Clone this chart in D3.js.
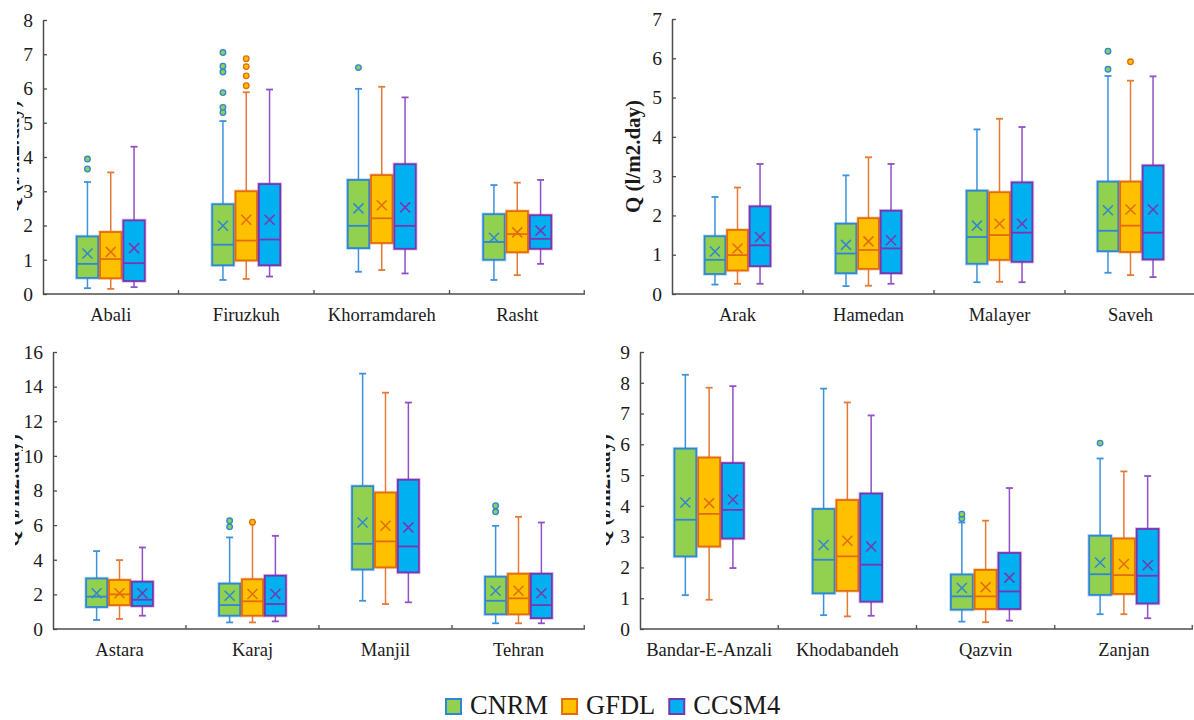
<!DOCTYPE html>
<html>
<head>
<meta charset="utf-8">
<script src="https://cdn.jsdelivr.net/npm/d3@7"></script>
<style>
  html, body { margin: 0; padding: 0; background: #fff; }
  svg { display: block; }
  svg text { font-family: "Liberation Serif", "Times New Roman", serif; fill: #1a1a1a; }
</style>
</head>
<body>
<svg id="chart" width="1194" height="720"></svg>
<script>
// ---------------- DATA ----------------
const models = ["CNRM", "GFDL", "CCSM4"];

// stats per station: [lowWhisker, Q1, median, Q3, highWhisker, mean]
const catsTL = ["Abali", "Firuzkuh", "Khorramdareh", "Rasht"];
const tlCNRM  = [[0.17,0.47,0.88,1.68,3.27,1.18],[0.41,0.84,1.44,2.62,5.05,1.99],[0.65,1.34,1.99,3.33,5.99,2.50],[0.41,1.00,1.52,2.33,3.18,1.64]];
const tlGFDL  = [[0.15,0.46,1.02,1.81,3.55,1.23],[0.44,0.98,1.56,3.00,5.89,2.17],[0.70,1.49,2.21,3.47,6.05,2.59],[0.55,1.22,1.75,2.42,3.25,1.80]];
const tlCCSM4 = [[0.20,0.38,0.90,2.15,4.30,1.34],[0.51,0.84,1.59,3.21,5.97,2.17],[0.60,1.32,1.99,3.79,5.74,2.53],[0.88,1.32,1.61,2.30,3.33,1.85]];
const tlOutCNRM  = [[3.65,3.94],[5.30,5.45,5.88,6.48,6.65,7.05],[6.61],[]];
const tlOutGFDL  = [[],[6.08,6.37,6.64,6.87],[],[]];
const tlOutCCSM4 = [[],[],[],[]];

const catsTR = ["Arak", "Hamedan", "Malayer", "Saveh"];
const trCNRM  = [[0.24,0.51,0.87,1.47,2.47,1.08],[0.20,0.53,1.03,1.79,3.02,1.25],[0.30,0.77,1.45,2.63,4.19,1.74],[0.54,1.09,1.61,2.86,5.55,2.13]];
const trGFDL  = [[0.26,0.60,0.99,1.63,2.71,1.16],[0.21,0.64,1.12,1.93,3.48,1.34],[0.31,0.87,1.50,2.59,4.46,1.79],[0.48,1.07,1.74,2.86,5.43,2.15]];
const trCCSM4 = [[0.26,0.71,1.24,2.23,3.31,1.45],[0.26,0.53,1.16,2.12,3.31,1.37],[0.30,0.82,1.56,2.84,4.25,1.79],[0.43,0.88,1.56,3.27,5.54,2.15]];
const trOutCNRM  = [[],[],[],[5.72,6.18]];
const trOutGFDL  = [[],[],[],[5.91]];
const trOutCCSM4 = [[],[],[],[]];

const catsBL = ["Astara", "Karaj", "Manjil", "Tehran"];
const blCNRM  = [[0.52,1.27,1.87,2.92,4.50,2.06],[0.38,0.77,1.38,2.62,5.29,1.92],[1.63,3.44,4.92,8.25,14.75,6.15],[0.33,0.85,1.63,3.02,5.96,2.21]];
const blGFDL  = [[0.58,1.38,2.00,2.83,3.98,2.06],[0.38,0.77,1.60,2.87,6.17,2.02],[1.44,3.56,5.06,7.88,13.65,5.96],[0.33,0.85,1.77,3.19,6.48,2.21]];
const blCCSM4 = [[0.77,1.33,1.69,2.73,4.71,2.06],[0.44,0.77,1.44,3.08,5.38,2.02],[1.54,3.27,4.77,8.62,13.08,5.87],[0.33,0.63,1.38,3.19,6.15,2.06]];
const blOutCNRM  = [[],[5.90,6.25],[],[6.77,7.12]];
const blOutGFDL  = [[],[6.17],[],[]];
const blOutCCSM4 = [[],[],[],[]];

const catsBR = ["Bandar-E-Anzali", "Khodabandeh", "Qazvin", "Zanjan"];
const brCNRM  = [[1.10,2.36,3.55,5.86,8.26,4.11],[0.45,1.16,2.25,3.90,7.81,2.73],[0.24,0.63,1.06,1.77,3.46,1.33],[0.48,1.11,1.78,3.03,5.54,2.16]];
const brGFDL  = [[0.95,2.68,3.74,5.57,7.84,4.09],[0.41,1.24,2.36,4.19,7.36,2.87],[0.22,0.65,1.06,1.92,3.52,1.36],[0.48,1.14,1.75,2.94,5.12,2.11]];
const brCCSM4 = [[1.98,2.94,3.87,5.39,7.89,4.21],[0.43,0.89,2.09,4.40,6.94,2.68],[0.27,0.65,1.22,2.47,4.58,1.67],[0.35,0.83,1.73,3.25,4.97,2.07]];
const brOutCNRM  = [[],[],[3.59,3.73],[6.04]];
const brOutGFDL  = [[],[],[],[]];
const brOutCCSM4 = [[],[],[],[]];

const ticksTL = [0,1,2,3,4,5,6,7,8];
const ticksTR = [0,1,2,3,4,5,6,7];
const ticksBL = [0,2,4,6,8,10,12,14,16];
const ticksBR = [0,1,2,3,4,5,6,7,8,9];

const yTitle = "Q (l/m2.day)";

// ---------------- STYLE ----------------
const SERIF = "'Liberation Serif', 'Times New Roman', serif";
const fillCol   = {CNRM: "#92D050", GFDL: "#FFC000", CCSM4: "#00B0F0"};
const strokeCol = {CNRM: "#2E86D6", GFDL: "#E36C0A", CCSM4: "#7A35B0"};
const whiskCol  = {CNRM: "#3D92DE", GFDL: "#E57A35", CCSM4: "#9150C8"};
const axisCol = "#4d4d4d";

const svg = d3.select("#chart");
const defs = svg.append("defs");

const panels = [
  {cats: catsTL, ticks: ticksTL, series: [tlCNRM, tlGFDL, tlCCSM4], outs: [tlOutCNRM, tlOutGFDL, tlOutCCSM4],
   x0: 43, x1: 585, yB: 294, yT: 20, titleX: 19, clipX: 17, clipW: 7},
  {cats: catsTR, ticks: ticksTR, series: [trCNRM, trGFDL, trCCSM4], outs: [trOutCNRM, trOutGFDL, trOutCCSM4],
   x0: 672, x1: 1196, yB: 294, yT: 19, titleX: 640, clipX: null, clipW: 0},
  {cats: catsBL, ticks: ticksBL, series: [blCNRM, blGFDL, blCCSM4], outs: [blOutCNRM, blOutGFDL, blOutCCSM4],
   x0: 53, x1: 585, yB: 629, yT: 352, titleX: 19, clipX: 15, clipW: 8},
  {cats: catsBR, ticks: ticksBR, series: [brCNRM, brGFDL, brCCSM4], outs: [brOutCNRM, brOutGFDL, brOutCCSM4],
   x0: 640, x1: 1193, yB: 629, yT: 352, titleX: 610, clipX: 606, clipW: 12}
];

panels.forEach((p, pi) => {
  const g = svg.append("g");
  const x = d3.scaleBand().domain(p.cats).range([p.x0, p.x1]).padding(0);
  const y = d3.scaleLinear().domain([0, d3.max(p.ticks)]).range([p.yB, p.yT]);
  const bw = x.bandwidth();
  const inner = d3.scalePoint().domain(models).range([-0.172 * bw, 0.172 * bw]);
  const boxW = 0.158 * bw;

  // Y title (some panels clipped as in the original)
  const tcy = (p.yB + p.yT) / 2;
  const tg = g.append("g");
  if (p.clipX !== null) {
    const id = "clip" + pi;
    defs.append("clipPath").attr("id", id).append("rect")
      .attr("x", p.clipX).attr("y", p.yT).attr("width", p.clipW).attr("height", p.yB - p.yT);
    tg.attr("clip-path", `url(#${id})`);
  }
  tg.append("text")
    .attr("transform", `translate(${p.titleX},${tcy}) rotate(-90)`)
    .attr("text-anchor", "middle")
    .attr("font-family", SERIF)
    .style("font-size", "21px").style("font-weight", "bold")
    .text(yTitle);

  // Y axis
  const yAxis = d3.axisLeft(y).tickValues(p.ticks).tickFormat(d3.format("d"))
    .tickSize(-4).tickPadding(10).tickSizeOuter(0);
  const ya = g.append("g").attr("transform", `translate(${p.x0},0)`).call(yAxis)
    .attr("font-family", SERIF).attr("font-size", 19);
  ya.select(".domain").attr("stroke", axisCol).attr("stroke-width", 1.5);
  ya.selectAll(".tick line").attr("stroke", axisCol).attr("stroke-width", 1.3);
  ya.selectAll(".tick text").attr("font-family", SERIF).style("font-size", "19.5px").attr("fill", "#1a1a1a");

  // X axis with separators at band edges
  g.append("line").attr("x1", p.x0).attr("x2", p.x1).attr("y1", p.yB).attr("y2", p.yB)
    .attr("stroke", axisCol).attr("stroke-width", 1.5);
  g.selectAll(".sep").data(p.cats.slice(1).concat(["__end"])).enter().append("line")
    .attr("x1", d => d === "__end" ? p.x1 - 0.75 : x(d))
    .attr("x2", d => d === "__end" ? p.x1 - 0.75 : x(d))
    .attr("y1", p.yB).attr("y2", p.yB - 4)
    .attr("stroke", axisCol).attr("stroke-width", 1.3);
  g.selectAll(".cat").data(p.cats).enter().append("text")
    .attr("x", d => x(d) + bw / 2).attr("y", p.yB + 27)
    .attr("text-anchor", "middle").attr("font-family", SERIF).style("font-size", "18.5px")
    .text(d => d);

  // Boxes
  models.forEach((m, mi) => {
    const data = p.series[mi];
    const outs = p.outs[mi];
    p.cats.forEach((c, ci) => {
      const [lo, q1, med, q3, hi, mean] = data[ci];
      const cx = x(c) + bw / 2 + inner(m);
      const bg = g.append("g");
      bg.append("line").attr("x1", cx).attr("x2", cx).attr("y1", y(q3)).attr("y2", y(hi))
        .attr("stroke", whiskCol[m]).attr("stroke-width", 1.5);
      bg.append("line").attr("x1", cx).attr("x2", cx).attr("y1", y(q1)).attr("y2", y(lo))
        .attr("stroke", whiskCol[m]).attr("stroke-width", 1.5);
      [hi, lo].forEach(v => {
        bg.append("line").attr("x1", cx - 3.5).attr("x2", cx + 3.5).attr("y1", y(v)).attr("y2", y(v))
          .attr("stroke", whiskCol[m]).attr("stroke-width", 1.8);
      });
      bg.append("rect").attr("x", cx - boxW / 2).attr("y", y(q3)).attr("width", boxW).attr("height", y(q1) - y(q3))
        .attr("fill", fillCol[m]).attr("stroke", strokeCol[m]).attr("stroke-opacity", 0.3).attr("stroke-width", 3.5);
      bg.append("rect").attr("x", cx - boxW / 2).attr("y", y(q3)).attr("width", boxW).attr("height", y(q1) - y(q3))
        .attr("fill", fillCol[m]).attr("stroke", strokeCol[m]).attr("stroke-width", 1.8);
      bg.append("line").attr("x1", cx - boxW / 2).attr("x2", cx + boxW / 2).attr("y1", y(med)).attr("y2", y(med))
        .attr("stroke", strokeCol[m]).attr("stroke-width", 1.8);
      const s = 5;
      const my = y(mean);
      bg.append("path").attr("d", `M${cx - s},${my - s}L${cx + s},${my + s}M${cx - s},${my + s}L${cx + s},${my - s}`)
        .attr("stroke", strokeCol[m]).attr("stroke-width", 1.5).attr("fill", "none");
      bg.selectAll(".o").data(outs[ci]).enter().append("circle")
        .attr("cx", cx).attr("cy", d => y(d)).attr("r", 2.8)
        .attr("fill", fillCol[m]).attr("stroke", strokeCol[m]).attr("stroke-width", 1.3);
    });
  });
});

// Legend
const leg = svg.append("g");
let lx = 446;
models.forEach(m => {
  leg.append("rect").attr("x", lx).attr("y", 699).attr("width", 15).attr("height", 15)
    .attr("fill", fillCol[m]).attr("stroke", strokeCol[m]).attr("stroke-width", 2);
  const t = leg.append("text").attr("x", lx + 24).attr("y", 714)
    .attr("font-family", SERIF).style("font-size", "26.5px").text(m);
  lx = lx + 24 + t.node().getComputedTextLength() + 14;
});
</script>
</body>
</html>
